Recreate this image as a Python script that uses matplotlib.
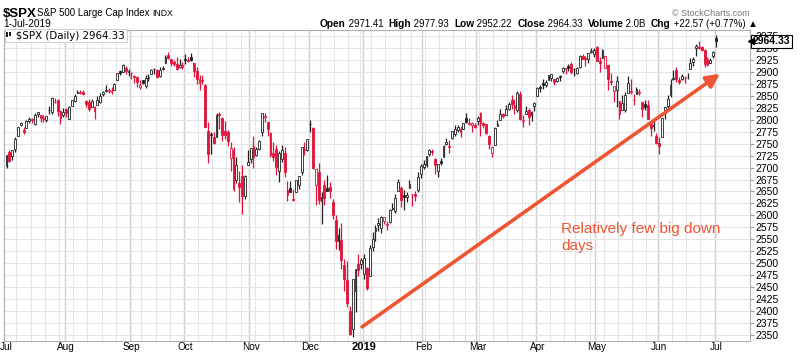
import matplotlib.pyplot as plt
import matplotlib.patches as mpatches
import numpy as np
import pandas as pd

plt.rcParams['font.family'] = ['Liberation Sans', 'DejaVu Sans']

# trading days, Jul 2 2018 .. Jul 1 2019
holidays = ['2018-07-04', '2018-09-03', '2018-11-22', '2018-12-05', '2018-12-25',
            '2019-01-01', '2019-01-21', '2019-02-18', '2019-04-19', '2019-05-27']
dates = pd.bdate_range('2018-07-02', '2019-07-01')
dates = dates[~dates.isin(pd.to_datetime(holidays))]

# daily OHLC, one row per month (Jul 18 .. Jun 19, then Jul 1 19)
opens = [
    2704, 2733, 2724, 2738, 2765, 2789, 2779, 2783, 2797, 2802, 2790, 2811, 2810, 2804, 2799, 2820, 2817, 2836, 2842, 2819, 2809,
    2822, 2802, 2829, 2840, 2856, 2856, 2858, 2839, 2836, 2827, 2827, 2831, 2838, 2854, 2861, 2860, 2861, 2862, 2884, 2901, 2900, 2908, 2899,
    2897, 2892, 2889, 2868, 2882, 2871, 2888, 2896, 2906, 2904, 2891, 2906, 2919, 2936, 2926, 2921, 2917, 2911, 2910,
    2926, 2924, 2932, 2919, 2902, 2877, 2882, 2873, 2776, 2770, 2764, 2764, 2812, 2803, 2776, 2774, 2721, 2737, 2675, 2668, 2682, 2640, 2705,
    2717, 2746, 2727, 2738, 2775, 2806, 2795, 2773, 2730, 2738, 2693, 2718, 2731, 2654, 2657, 2633, 2649, 2663, 2691, 2737, 2737,
    2790, 2782, 2663, 2691, 2630, 2664, 2658, 2659, 2629, 2591, 2559, 2548, 2496, 2465, 2401, 2363, 2442, 2499, 2498,
    2477, 2491, 2474, 2535, 2568, 2580, 2573, 2588, 2580, 2586, 2614, 2610, 2651, 2658, 2643, 2639, 2657, 2644, 2645, 2654, 2686,
    2702, 2706, 2728, 2735, 2717, 2692, 2713, 2722, 2750, 2743, 2761, 2770, 2779, 2781, 2780, 2804, 2792, 2788, 2788,
    2798, 2814, 2794, 2791, 2766, 2731, 2747, 2787, 2799, 2811, 2810, 2823, 2841, 2831, 2820, 2854, 2797, 2812, 2820, 2809, 2828,
    2849, 2868, 2877, 2873, 2884, 2888, 2886, 2881, 2891, 2901, 2908, 2912, 2916, 2905, 2898, 2910, 2934, 2929, 2926, 2941, 2937,
    2952, 2922, 2929, 2909, 2914, 2880, 2860, 2863, 2840, 2820, 2820, 2855, 2858, 2841, 2854, 2856, 2836, 2833, 2831, 2790, 2786, 2767,
    2751, 2763, 2819, 2829, 2852, 2885, 2903, 2882, 2886, 2887, 2889, 2907, 2920, 2949, 2952, 2952, 2945, 2926, 2919, 2933,
    2971.41,
]
highs = [
    2727, 2736, 2737, 2763, 2784, 2796, 2785, 2800, 2805, 2804, 2814, 2817, 2810, 2809, 2808, 2829, 2848, 2845, 2843, 2821, 2825,
    2825, 2829, 2841, 2853, 2863, 2862, 2862, 2842, 2843, 2843, 2828, 2850, 2855, 2859, 2873, 2867, 2868, 2876, 2898, 2904, 2916, 2913, 2907,
    2900, 2894, 2892, 2884, 2884, 2893, 2895, 2906, 2908, 2905, 2911, 2912, 2935, 2941, 2927, 2924, 2931, 2927, 2920,
    2937, 2931, 2940, 2919, 2910, 2894, 2894, 2874, 2795, 2775, 2775, 2813, 2816, 2806, 2798, 2779, 2754, 2743, 2723, 2692, 2706, 2685, 2736,
    2741, 2767, 2744, 2757, 2815, 2814, 2795, 2775, 2754, 2747, 2735, 2747, 2742, 2671, 2671, 2655, 2675, 2683, 2744, 2753, 2760,
    2800, 2785, 2697, 2709, 2648, 2674, 2685, 2670, 2635, 2601, 2573, 2585, 2509, 2505, 2410, 2467, 2489, 2520, 2510,
    2520, 2493, 2538, 2566, 2580, 2595, 2598, 2597, 2589, 2613, 2625, 2645, 2676, 2661, 2653, 2648, 2673, 2645, 2652, 2690, 2708,
    2716, 2725, 2738, 2739, 2719, 2708, 2719, 2748, 2762, 2757, 2776, 2788, 2789, 2786, 2794, 2814, 2803, 2796, 2794,
    2808, 2816, 2796, 2791, 2768, 2745, 2785, 2799, 2822, 2815, 2831, 2836, 2852, 2844, 2860, 2861, 2809, 2829, 2825, 2819, 2836,
    2868, 2872, 2885, 2882, 2893, 2896, 2886, 2889, 2893, 2910, 2909, 2917, 2921, 2908, 2910, 2936, 2937, 2933, 2940, 2950, 2949,
    2954, 2931, 2948, 2933, 2915, 2898, 2871, 2891, 2840, 2852, 2858, 2892, 2885, 2853, 2868, 2865, 2836, 2841, 2841, 2792, 2799, 2772,
    2763, 2804, 2827, 2852, 2885, 2904, 2910, 2889, 2896, 2891, 2897, 2930, 2932, 2958, 2965, 2955, 2947, 2932, 2929, 2944,
    2977.93,
]
lows = [
    2699, 2712, 2716, 2733, 2765, 2787, 2770, 2783, 2793, 2793, 2789, 2805, 2796, 2795, 2795, 2811, 2812, 2835, 2808, 2792, 2805,
    2805, 2801, 2828, 2836, 2856, 2853, 2852, 2826, 2819, 2826, 2802, 2831, 2834, 2850, 2858, 2856, 2854, 2862, 2884, 2894, 2899, 2895, 2891,
    2885, 2877, 2868, 2864, 2874, 2867, 2880, 2896, 2895, 2887, 2890, 2903, 2919, 2927, 2912, 2912, 2903, 2909, 2907,
    2917, 2920, 2922, 2889, 2874, 2863, 2874, 2784, 2710, 2729, 2749, 2764, 2781, 2755, 2760, 2745, 2692, 2651, 2667, 2628, 2603, 2635, 2705,
    2709, 2700, 2724, 2737, 2765, 2795, 2765, 2722, 2714, 2685, 2670, 2712, 2681, 2631, 2649, 2631, 2649, 2656, 2684, 2727, 2735,
    2774, 2697, 2621, 2623, 2583, 2621, 2650, 2637, 2593, 2530, 2528, 2489, 2441, 2408, 2351, 2346, 2398, 2473, 2487,
    2467, 2444, 2474, 2525, 2547, 2568, 2563, 2582, 2570, 2585, 2612, 2606, 2651, 2617, 2612, 2627, 2657, 2619, 2631, 2648, 2678,
    2696, 2701, 2725, 2727, 2687, 2681, 2705, 2722, 2748, 2731, 2760, 2767, 2774, 2764, 2780, 2794, 2789, 2775, 2782,
    2788, 2767, 2782, 2770, 2739, 2722, 2747, 2786, 2799, 2804, 2810, 2821, 2823, 2812, 2817, 2800, 2785, 2812, 2788, 2798, 2819,
    2849, 2858, 2865, 2868, 2882, 2880, 2873, 2879, 2881, 2898, 2896, 2901, 2896, 2892, 2896, 2909, 2926, 2913, 2919, 2940, 2932,
    2923, 2900, 2929, 2908, 2863, 2873, 2837, 2826, 2801, 2820, 2816, 2855, 2854, 2831, 2854, 2852, 2805, 2820, 2801, 2766, 2776, 2750,
    2728, 2763, 2801, 2823, 2848, 2883, 2878, 2874, 2883, 2877, 2886, 2905, 2912, 2934, 2947, 2944, 2910, 2912, 2918, 2930,
    2952.22,
]
closes = [
    2726.71, 2713.22, 2736.61, 2759.82, 2784.17, 2793.84, 2774.02, 2798.29, 2801.31, 2798.43, 2809.55, 2815.62, 2804.49, 2801.83, 2806.98, 2820.40, 2846.07, 2837.44, 2818.82, 2802.60, 2816.29,
    2813.36, 2827.22, 2840.35, 2850.40, 2858.45, 2857.70, 2853.58, 2833.28, 2821.93, 2839.96, 2818.37, 2840.69, 2850.13, 2857.05, 2862.96, 2861.82, 2856.98, 2874.69, 2896.74, 2897.52, 2914.04, 2901.13, 2901.52,
    2896.72, 2888.60, 2878.05, 2871.68, 2877.13, 2887.89, 2888.92, 2904.18, 2904.98, 2888.80, 2904.31, 2907.95, 2930.75, 2929.67, 2919.37, 2915.56, 2905.97, 2914.00, 2913.98,
    2924.59, 2923.43, 2925.51, 2901.61, 2885.57, 2884.43, 2880.34, 2785.68, 2728.37, 2767.13, 2750.79, 2809.92, 2809.21, 2768.78, 2767.78, 2755.88, 2740.69, 2656.10, 2705.57, 2658.69, 2641.25, 2682.63, 2711.74,
    2740.37, 2723.06, 2738.31, 2755.45, 2813.89, 2806.83, 2781.01, 2726.22, 2722.18, 2701.58, 2730.20, 2736.27, 2690.73, 2641.89, 2649.93, 2632.56, 2673.45, 2682.17, 2743.79, 2737.80, 2760.17,
    2790.37, 2700.06, 2695.95, 2633.08, 2637.72, 2636.78, 2651.07, 2650.54, 2599.95, 2545.94, 2546.16, 2506.96, 2467.42, 2416.62, 2351.10, 2467.70, 2488.83, 2485.74, 2506.85,
    2510.03, 2447.89, 2531.94, 2549.69, 2574.41, 2584.96, 2596.64, 2596.26, 2582.61, 2610.30, 2616.10, 2635.96, 2670.71, 2632.90, 2638.70, 2642.33, 2664.76, 2643.85, 2640.00, 2681.05, 2704.10,
    2706.53, 2724.87, 2737.70, 2731.61, 2706.05, 2707.88, 2709.80, 2744.73, 2753.03, 2745.73, 2775.60, 2779.76, 2784.70, 2774.88, 2792.67, 2796.11, 2793.90, 2792.38, 2784.49,
    2803.69, 2792.81, 2789.65, 2771.45, 2748.93, 2743.07, 2783.30, 2791.52, 2810.92, 2808.48, 2822.48, 2832.94, 2832.57, 2824.23, 2854.88, 2800.71, 2798.36, 2818.46, 2805.37, 2815.44, 2834.40,
    2867.19, 2867.24, 2873.40, 2879.39, 2892.74, 2895.77, 2878.20, 2888.21, 2888.32, 2907.41, 2905.58, 2907.06, 2900.45, 2905.03, 2907.97, 2933.68, 2927.25, 2926.17, 2939.88, 2943.03, 2945.83,
    2923.73, 2917.52, 2945.64, 2932.47, 2884.05, 2879.42, 2870.72, 2881.40, 2811.87, 2834.41, 2850.96, 2876.32, 2859.53, 2840.23, 2864.36, 2856.27, 2822.24, 2826.06, 2802.39, 2783.02, 2788.86, 2752.06,
    2744.45, 2803.27, 2826.15, 2843.49, 2873.34, 2886.73, 2885.72, 2879.84, 2891.64, 2886.98, 2889.67, 2917.75, 2926.46, 2954.18, 2950.46, 2945.35, 2917.38, 2913.78, 2924.92, 2941.76,
    2964.33,
]
price_ticks = list(range(2350, 3000, 25))
month_names = ['Jul', 'Aug', 'Sep', 'Oct', 'Nov', 'Dec', '2019', 'Feb', 'Mar', 'Apr', 'May', 'Jun', 'Jul']

n = min(len(dates), len(opens), len(highs), len(lows), len(closes))
dates = dates[:n]
o = np.array(opens[:n], dtype=float)
h = np.array(highs[:n], dtype=float)
l = np.array(lows[:n], dtype=float)
c = np.array(closes[:n], dtype=float)
x = np.arange(n)

RED = '#e0143c'
ORANGE = '#f05533'

fig = plt.figure(figsize=(8, 3.53), dpi=100)
ax = fig.add_axes([4 / 800, 12 / 353, 746 / 800, 311 / 353])

# grid: weekly light lines, monthly darker ones
month_idx = [i for i in range(n) if i == 0 or dates[i].month != dates[i - 1].month]
week_idx = [i for i in range(1, n) if dates[i].weekday() < dates[i - 1].weekday()]
for i in week_idx:
    ax.axvline(i - 0.5, color='#e4e4e4', lw=0.8, zorder=0)
for i in month_idx[1:]:
    ax.axvline(i - 0.5, color='#cfcfcf', lw=1.0, zorder=0)
for p in price_ticks:
    ax.axhline(p, color='#e4e4e4', lw=0.8, zorder=0)

# candles: red when close below previous close, hollow when close above open
prev = np.concatenate([[c[0]], c[:-1]])
edge = [RED if c[i] < prev[i] else '#222222' for i in range(n)]
face = ['white' if c[i] > o[i] else edge[i] for i in range(n)]
body_lo = np.minimum(o, c)
body_h = np.maximum(np.abs(c - o), 1.0)
ax.vlines(x, l, h, colors=edge, lw=0.9, zorder=2)
ax.bar(x, body_h, bottom=body_lo, width=0.65, color=face, edgecolor=edge,
       linewidth=0.6, zorder=3)

ax.set_xlim(-0.9, 262)
ax.set_ylim(2337.5, 2987.5)

ax.yaxis.tick_right()
ax.set_yticks(price_ticks)
ax.set_yticklabels([str(p) for p in price_ticks])
ax.tick_params(axis='y', length=3, width=0.6, pad=1, labelsize=7.5, color='#888888')
ax.set_xticks(month_idx)
ax.set_xticklabels(month_names[:len(month_idx)])
ax.tick_params(axis='x', length=0, pad=1, labelsize=7.2)
for t in ax.get_xticklabels():
    if t.get_text() == '2019':
        t.set_fontweight('bold')
        t.set_fontsize(8)
for s in ax.spines.values():
    s.set_color('#b0b0b0')
    s.set_linewidth(0.8)

# trend arrow and note
ax.annotate('', xy=(251.4, 2896), xytext=(125.3, 2367),
            arrowprops=dict(arrowstyle='-|>', color=ORANGE, lw=2.6,
                            mutation_scale=20, shrinkA=0, shrinkB=0), zorder=5)
ax.text(195.4, 2587, 'Relatively few big down\ndays', color=ORANGE, fontsize=11,
        va='top', ha='left', linespacing=1.35, zorder=5)

# current price box on the right
last = c[-1]
ax.text(1.0 + 3 / 746, last, '%.2f' % last, transform=ax.get_yaxis_transform(),
        fontsize=7.5, fontweight='bold', va='center', ha='left', zorder=10, clip_on=False,
        bbox=dict(boxstyle='square,pad=0.15', fc='white', ec='black', lw=0.8))
ax.plot([1.0 + 1 / 746], [last], marker='<', ms=4, color='black',
        transform=ax.get_yaxis_transform(), clip_on=False, zorder=11)

# legend box inside the chart
ax.text(0.003, 0.997, '   $SPX (Daily) 2964.33', transform=ax.transAxes, fontsize=7.4,
        family='DejaVu Sans', va='top', ha='left', zorder=10,
        bbox=dict(boxstyle='square,pad=0.15', fc='white', ec='#c8c8c8', lw=0.6))
fig.patches.append(mpatches.Rectangle((6 / 800, 1 - 37 / 353), 2 / 800, 5 / 353,
                                      transform=fig.transFigure, fc='#222222', ec='none', zorder=20))
fig.patches.append(mpatches.Rectangle((9 / 800, 1 - 36 / 353), 2 / 800, 4 / 353,
                                      transform=fig.transFigure, fc='#222222', ec='none', zorder=20))

# header
fig.text(3 / 800, 1 - 17 / 353, '$SPX', fontsize=9.5, fontweight='bold')
fig.text(37 / 800, 1 - 16 / 353, 'S&P 500 Large Cap Index', fontsize=7)
fig.text(152 / 800, 1 - 16 / 353, 'INDX', fontsize=6.2)
fig.text(3 / 800, 1 - 27 / 353, '1-Jul-2019', fontsize=7.3)
fig.text(750 / 800, 1 - 16 / 353, '\u00a9 StockCharts.com', fontsize=6.5, color='#777777',
         ha='right')

parts = [('Open', 'bold'), (' 2971.41  ', 'normal'), ('High', 'bold'), (' 2977.93  ', 'normal'),
         ('Low', 'bold'), (' 2952.22  ', 'normal'), ('Close', 'bold'), (' 2964.33  ', 'normal'),
         ('Volume', 'bold'), (' 2.0B  ', 'normal'), ('Chg', 'bold'), (' +22.57 (+0.77%) \u25b2', 'normal')]
prev_t = fig.text(320 / 800, 1 - 27 / 353, parts[0][0], fontsize=7.25, fontweight=parts[0][1])
for txt, wt in parts[1:]:
    prev_t = plt.annotate(txt, xy=(1, 0), xycoords=prev_t, va='bottom', ha='left',
                          fontsize=7.25 if wt == 'bold' else 6.95, fontweight=wt,
                          annotation_clip=False)

fig.savefig('out.png', dpi=100)
